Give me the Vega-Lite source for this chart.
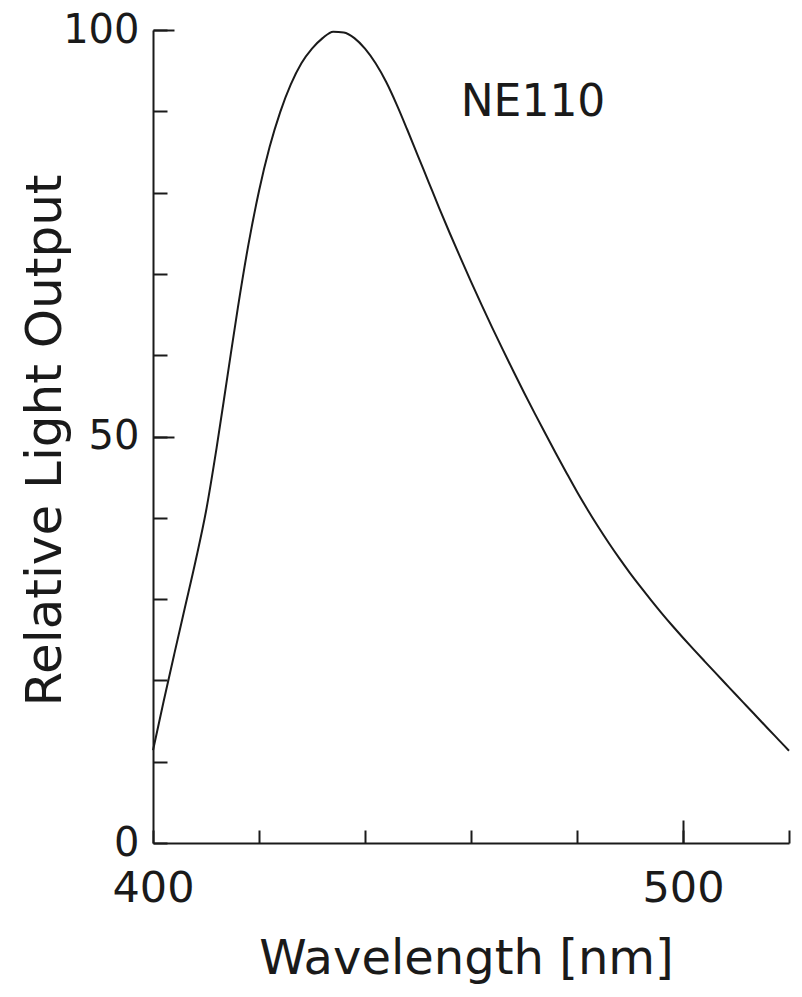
{
  "$schema": "https://vega.github.io/schema/vega-lite/v6.json",
  "width": 636,
  "height": 813,
  "autosize": "none",
  "padding": {"left": 153, "top": 30, "right": 13, "bottom": 154},
  "background": "white",
  "config": {"view": {"stroke": null}, "font": "DejaVu Sans"},
  "layer": [
    {
      "data": {
        "values": [
          {"wavelength": 400, "output": 11.4},
          {"wavelength": 402, "output": 17.4},
          {"wavelength": 404, "output": 23.2},
          {"wavelength": 406, "output": 28.9},
          {"wavelength": 408, "output": 34.6},
          {"wavelength": 410, "output": 40.8},
          {"wavelength": 412, "output": 48.6},
          {"wavelength": 414, "output": 57.2},
          {"wavelength": 416, "output": 65.8},
          {"wavelength": 418, "output": 73.6},
          {"wavelength": 420, "output": 80.2},
          {"wavelength": 422, "output": 85.6},
          {"wavelength": 424, "output": 89.9},
          {"wavelength": 426, "output": 93.3},
          {"wavelength": 428, "output": 95.9},
          {"wavelength": 430, "output": 97.7},
          {"wavelength": 432, "output": 99.0},
          {"wavelength": 434, "output": 99.8},
          {"wavelength": 436, "output": 99.7},
          {"wavelength": 438, "output": 99.0},
          {"wavelength": 440, "output": 97.7},
          {"wavelength": 442, "output": 95.9},
          {"wavelength": 444, "output": 93.6},
          {"wavelength": 446, "output": 90.8},
          {"wavelength": 448, "output": 87.7},
          {"wavelength": 450, "output": 84.5},
          {"wavelength": 452, "output": 81.3},
          {"wavelength": 454, "output": 78.1},
          {"wavelength": 456, "output": 75.0},
          {"wavelength": 458, "output": 72.0},
          {"wavelength": 460, "output": 69.06},
          {"wavelength": 462, "output": 66.2},
          {"wavelength": 464, "output": 63.4},
          {"wavelength": 466, "output": 60.68},
          {"wavelength": 468, "output": 58.02},
          {"wavelength": 470, "output": 55.42},
          {"wavelength": 472, "output": 52.88},
          {"wavelength": 474, "output": 50.4},
          {"wavelength": 476, "output": 47.95},
          {"wavelength": 478, "output": 45.55},
          {"wavelength": 480, "output": 43.2},
          {"wavelength": 482, "output": 41.0},
          {"wavelength": 484, "output": 38.9},
          {"wavelength": 486, "output": 36.9},
          {"wavelength": 488, "output": 35.0},
          {"wavelength": 490, "output": 33.2},
          {"wavelength": 492, "output": 31.5},
          {"wavelength": 494, "output": 29.85},
          {"wavelength": 496, "output": 28.25},
          {"wavelength": 498, "output": 26.72},
          {"wavelength": 500, "output": 25.25},
          {"wavelength": 502, "output": 23.82},
          {"wavelength": 504, "output": 22.41},
          {"wavelength": 506, "output": 21.01},
          {"wavelength": 508, "output": 19.62},
          {"wavelength": 510, "output": 18.23},
          {"wavelength": 512, "output": 16.85},
          {"wavelength": 514, "output": 15.47},
          {"wavelength": 516, "output": 14.09},
          {"wavelength": 518, "output": 12.72},
          {"wavelength": 520, "output": 11.35}
        ]
      },
      "mark": {"type": "line", "interpolate": "monotone", "color": "#1a1a1a", "strokeWidth": 2},
      "encoding": {
        "x": {
          "field": "wavelength",
          "type": "quantitative",
          "scale": {"domain": [400, 520], "nice": false, "zero": false},
          "axis": {
            "orient": "bottom",
            "values": [400, 420, 440, 460, 480, 500, 520],
            "grid": false,
            "tickSize": -13,
            "tickWidth": 2,
            "tickColor": "#1a1a1a",
            "domainColor": "#1a1a1a",
            "domainWidth": 2,
            "labelExpr": "datum.value == 400 || datum.value == 500 ? datum.label : ''",
            "labelFont": "DejaVu Sans",
            "labelFontSize": 43,
            "labelColor": "#1a1a1a",
            "labelPadding": 37,
            "labelBaseline": "top",
            "labelFlush": false,
            "labelOverlap": false,
            "title": "Wavelength [nm]",
            "titleFont": "DejaVu Sans",
            "titleFontSize": 48,
            "titleFontWeight": "normal",
            "titleColor": "#1a1a1a",
            "titleX": 313,
            "titleY": 130,
            "titleBaseline": "alphabetic",
            "titleAlign": "center"
          }
        },
        "y": {
          "field": "output",
          "type": "quantitative",
          "scale": {"domain": [0, 100], "nice": false},
          "axis": {
            "orient": "left",
            "values": [0, 10, 20, 30, 40, 50, 60, 70, 80, 90, 100],
            "grid": false,
            "tickSize": -14,
            "tickWidth": 2,
            "tickColor": "#1a1a1a",
            "domainColor": "#1a1a1a",
            "domainWidth": 2,
            "labelExpr": "datum.value % 50 == 0 ? datum.label : ''",
            "labelFont": "DejaVu Sans",
            "labelFontSize": 40,
            "labelColor": "#1a1a1a",
            "labelPadding": 28,
            "labelBaseline": "middle",
            "labelAlign": "right",
            "labelFlush": false,
            "labelOverlap": false,
            "title": "Relative Light Output",
            "titleFont": "DejaVu Sans",
            "titleFontSize": 50,
            "titleFontWeight": "normal",
            "titleColor": "#1a1a1a",
            "titleAngle": 270,
            "titleX": -93,
            "titleY": 410,
            "titleBaseline": "alphabetic",
            "titleAlign": "center"
          }
        }
      }
    },
    {
      "data": {"values": [{"wavelength": 471.7, "output": 89.4, "label": "NE110"}]},
      "mark": {"type": "text", "font": "DejaVu Sans", "fontSize": 44, "align": "center", "baseline": "alphabetic", "color": "#1a1a1a"},
      "encoding": {
        "x": {
          "field": "wavelength",
          "type": "quantitative",
          "axis": {"orient": "bottom", "values": [500], "tickSize": -23, "tickWidth": 2, "tickColor": "#1a1a1a", "labels": false, "domain": false, "grid": false, "title": null}
        },
        "y": {
          "field": "output",
          "type": "quantitative",
          "axis": {"orient": "left", "values": [50, 100], "tickSize": -21, "tickWidth": 2, "tickColor": "#1a1a1a", "labels": false, "domain": false, "grid": false, "title": null}
        },
        "text": {"field": "label"}
      }
    }
  ],
  "resolve": {"axis": {"x": "independent", "y": "independent"}}
}
